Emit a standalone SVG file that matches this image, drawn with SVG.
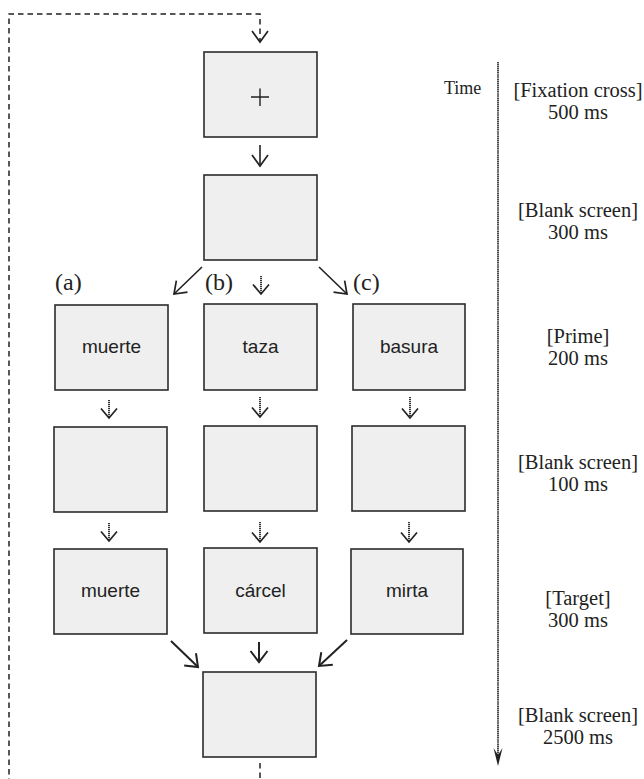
<svg xmlns="http://www.w3.org/2000/svg" width="644" height="779" viewBox="0 0 644 779">
  <style>
    .screen { fill: #eeefee; stroke: #2b2b2b; stroke-width: 1.6; }
    .word { font-family: "Liberation Sans", Arial, sans-serif; font-size: 19px; fill: #222; text-anchor: middle; }
    .phase { font-family: "Liberation Serif", "Times New Roman", serif; font-size: 20.5px; fill: #222; text-anchor: middle; }
    .cond { font-family: "Liberation Serif", "Times New Roman", serif; font-size: 24px; fill: #222; }
    .solid { fill: none; stroke: #222; stroke-width: 1.6; }
    .bold { fill: none; stroke: #222; stroke-width: 2; }
    .dotted { fill: none; stroke: #111; stroke-width: 1.7; stroke-dasharray: 1.3 0.7; }
    .loop { fill: none; stroke: #222; stroke-width: 1.5; stroke-dasharray: 5.5 4; }
  </style>
  <defs>
    <marker id="head" markerUnits="userSpaceOnUse" orient="auto" refX="0" refY="0" markerWidth="30" markerHeight="30" viewBox="-15 -15 30 30" overflow="visible">
      <path d="M-11,-8 L0,0 L-11,8" fill="none" stroke="#222" stroke-width="1.7"/>
    </marker>
    <marker id="headBold" markerUnits="userSpaceOnUse" orient="auto" refX="0" refY="0" markerWidth="30" markerHeight="30" viewBox="-15 -15 30 30" overflow="visible">
      <path d="M-11,-8.5 L0,0 L-11,8.5" fill="none" stroke="#222" stroke-width="2"/>
    </marker>
    <marker id="headSm" markerUnits="userSpaceOnUse" orient="auto" refX="0" refY="0" markerWidth="30" markerHeight="30" viewBox="-15 -15 30 30" overflow="visible">
      <path d="M-9.5,-8 L0,0 L-9.5,8" fill="none" stroke="#222" stroke-width="1.7"/>
    </marker>
  </defs>

  <!-- trial screens -->
  <g id="fixation">
    <rect class="screen" x="204" y="52" width="113" height="85"/>
    <path d="M251,97 H269 M260,88.5 V106" fill="none" stroke="#222" stroke-width="1.4"/>
  </g>
  <g id="blank-300">
    <rect class="screen" x="204" y="175" width="113" height="85"/>
  </g>
  <g id="prime-a">
    <rect class="screen" x="55" y="305" width="113" height="85"/>
    <text class="word" x="111.5" y="353">muerte</text>
  </g>
  <g id="prime-b">
    <rect class="screen" x="204" y="304" width="113" height="86"/>
    <text class="word" x="260.5" y="353">taza</text>
  </g>
  <g id="prime-c">
    <rect class="screen" x="353" y="304" width="112" height="86"/>
    <text class="word" x="409" y="353">basura</text>
  </g>
  <g id="blank-100-a">
    <rect class="screen" x="54" y="427" width="113" height="85"/>
  </g>
  <g id="blank-100-b">
    <rect class="screen" x="204" y="426" width="113" height="85"/>
  </g>
  <g id="blank-100-c">
    <rect class="screen" x="352" y="426" width="113" height="85"/>
  </g>
  <g id="target-a">
    <rect class="screen" x="54" y="549" width="113" height="85"/>
    <text class="word" x="110.5" y="597">muerte</text>
  </g>
  <g id="target-b">
    <rect class="screen" x="204" y="548" width="113" height="85"/>
    <text class="word" x="260.5" y="597">cárcel</text>
  </g>
  <g id="target-c">
    <rect class="screen" x="351" y="549" width="112" height="85"/>
    <text class="word" x="407" y="597">mirta</text>
  </g>
  <g id="blank-2500">
    <rect class="screen" x="203" y="672" width="113" height="85"/>
  </g>

  <!-- condition labels -->
  <g id="conditions">
    <text class="cond" x="55" y="290">(a)</text>
    <text class="cond" x="205" y="290">(b)</text>
    <text class="cond" x="353" y="290">(c)</text>
  </g>

  <!-- connectors -->
  <g id="connectors">
    <path class="loop" d="M260,763 V800 H9 V14 H260 V42" marker-end="url(#head)"/>
    <path class="solid" d="M260,145 V166" marker-end="url(#head)"/>
    <path class="solid" d="M202,267 L174,294" marker-end="url(#head)"/>
    <path class="dotted" d="M261,276 V294" marker-end="url(#headSm)"/>
    <path class="solid" d="M319,267 L347,294" marker-end="url(#head)"/>
    <path class="dotted" d="M109,400 V418" marker-end="url(#headSm)"/>
    <path class="dotted" d="M260,397 V417" marker-end="url(#headSm)"/>
    <path class="dotted" d="M410,397 V418" marker-end="url(#headSm)"/>
    <path class="dotted" d="M109,523 V541" marker-end="url(#headSm)"/>
    <path class="dotted" d="M260,522 V542" marker-end="url(#headSm)"/>
    <path class="dotted" d="M409,522 V542" marker-end="url(#headSm)"/>
    <path class="bold" d="M171,641 L198,667" marker-end="url(#headBold)"/>
    <path class="bold" d="M259,642 V662" marker-end="url(#headBold)"/>
    <path class="bold" d="M347,640 L319,666" marker-end="url(#headBold)"/>
  </g>

  <!-- time axis -->
  <g id="time-axis">
    <path d="M498,62 V756" fill="none" stroke="#111" stroke-width="1.5" stroke-dasharray="1.4 0.5"/>
    <path d="M498,766 L493.5,748 L498,755 L502.5,748 Z" fill="#222"/>
    <text x="444" y="94" font-family="Liberation Serif, Times New Roman, serif" font-size="18" fill="#222">Time</text>
  </g>

  <!-- phase durations -->
  <g id="phases">
    <text class="phase" x="578" y="97">[Fixation cross]</text>
    <text class="phase" x="578" y="119">500 ms</text>
    <text class="phase" x="578" y="217">[Blank screen]</text>
    <text class="phase" x="578" y="239">300 ms</text>
    <text class="phase" x="578" y="343">[Prime]</text>
    <text class="phase" x="578" y="365">200 ms</text>
    <text class="phase" x="578" y="469">[Blank screen]</text>
    <text class="phase" x="578" y="491">100 ms</text>
    <text class="phase" x="578" y="605">[Target]</text>
    <text class="phase" x="578" y="627">300 ms</text>
    <text class="phase" x="578" y="722">[Blank screen]</text>
    <text class="phase" x="578" y="744">2500 ms</text>
  </g>
</svg>
